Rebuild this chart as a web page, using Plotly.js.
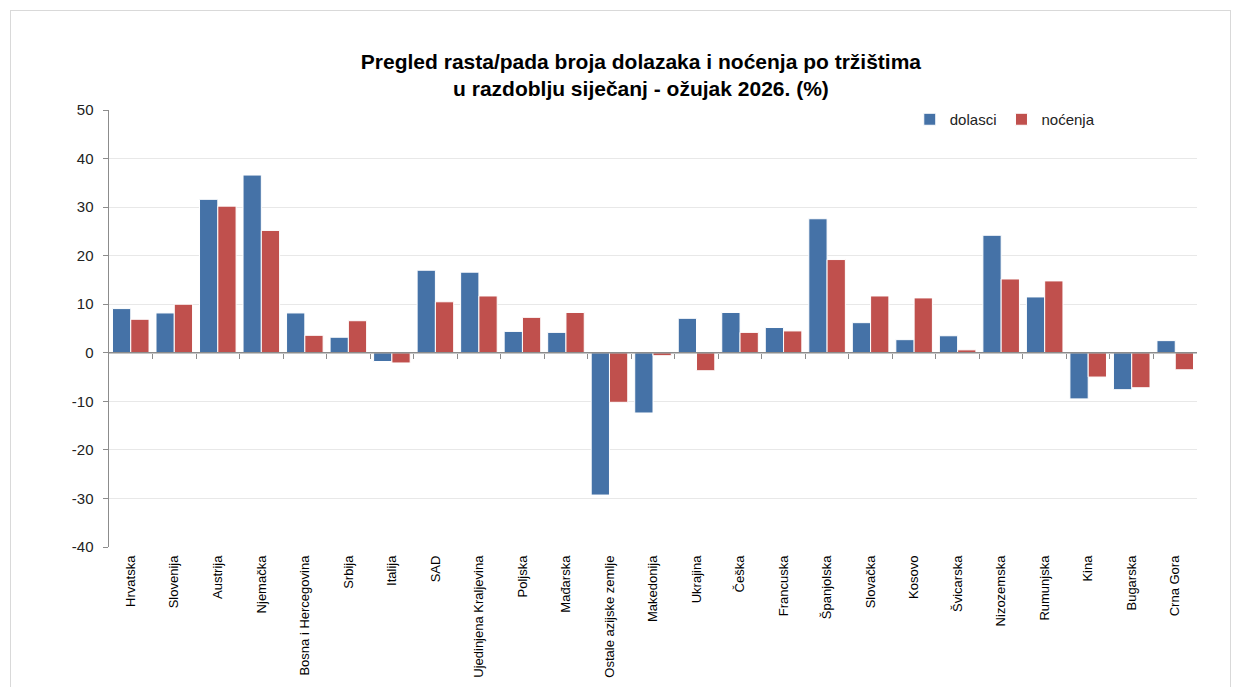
<!DOCTYPE html>
<html>
<head>
<meta charset="utf-8">
<script src="https://cdn.plot.ly/plotly-3.0.1.min.js"></script>
<style>
html,body{margin:0;padding:0;background:#fff;overflow:hidden;}
#frame{position:absolute;left:10px;top:10px;width:1221px;height:700px;border:1px solid #d9d9d9;box-sizing:border-box;pointer-events:none;z-index:2;}
#chart{position:absolute;left:0;top:0;width:1234px;height:687px;}
</style>
</head>
<body>
<div id="chart"></div>
<div id="frame"></div>
<script>
const categories = ["Hrvatska","Slovenija","Austrija","Njemačka","Bosna i Hercegovina","Srbija","Italija","SAD","Ujedinjena Kraljevina","Poljska","Mađarska","Ostale azijske zemlje","Makedonija","Ukrajina","Češka","Francuska","Španjolska","Slovačka","Kosovo","Švicarska","Nizozemska","Rumunjska","Kina","Bugarska","Crna Gora"];
const dolasci = [9.1, 8.2, 31.6, 36.6, 8.2, 3.2, -1.8, 17.0, 16.6, 4.4, 4.2, -29.3, -12.4, 7.1, 8.3, 5.2, 27.6, 6.2, 2.7, 3.5, 24.2, 11.5, -9.5, -7.6, 2.5];
const nocenja = [6.9, 10.0, 30.2, 25.2, 3.6, 6.6, -2.1, 10.5, 11.7, 7.3, 8.3, -10.2, -0.6, -3.7, 4.2, 4.5, 19.2, 11.7, 11.3, 0.6, 15.2, 14.8, -5.0, -7.2, -3.5];
const yTicks = [-40,-30,-20,-10,0,10,20,30,40,50];
const yTickLabels = ["-40","-30","-20","-10","0","10","20","30","40","50"];
const seriesNames = ["dolasci","noćenja"];
const titleText = "Pregled rasta/pada broja dolazaka i noćenja po tržištima<br>u razdoblju siječanj - ožujak 2026. (%)";

const FONT = "Liberation Sans, Arial, sans-serif";
const yMin = -40, yMax = 50;
const boundaries = categories.slice(0, -1).map((c, i) => i + 0.5);

const traces = [
  {type:'bar', name:seriesNames[0], x:categories, y:dolasci,
   marker:{color:'#4572A7', line:{color:'#ffffff', width:1}}, hoverinfo:'x+y'},
  {type:'bar', name:seriesNames[1], x:categories, y:nocenja,
   marker:{color:'#C0504D', line:{color:'#ffffff', width:1}}, hoverinfo:'x+y'},
  {type:'scatter', x:[-0.5, categories.length - 0.5], y:[0, 0], xaxis:'x2', yaxis:'y',
   mode:'lines', line:{color:'#8c8c8c', width:1.5}, showlegend:false, hoverinfo:'skip'}
];

const layout = {
  width:1234, height:687,
  margin:{l:109, r:37, t:110, b:140, pad:0},
  paper_bgcolor:'#ffffff', plot_bgcolor:'#ffffff',
  title:{text:titleText, x:0.5194, xanchor:'center', y:0.9, yanchor:'middle',
         font:{family:FONT, size:21, color:'#000000', weight:'bold'}},
  barmode:'group', bargap:0.16, bargroupgap:0,
  showlegend:true,
  legend:{orientation:'h', x:0.736, y:1.016, xanchor:'left', yanchor:'top',
          font:{family:FONT, size:15, color:'#222'}, bgcolor:'rgba(0,0,0,0)', itemwidth:30},
  xaxis:{type:'category', tickangle:-90, tickfont:{family:FONT, size:13, color:'#000'},
         showgrid:false, zeroline:false, showline:false, ticks:'', automargin:false,
         ticklabelstandoff:5, range:[-0.5, categories.length - 0.5]},
  xaxis2:{overlaying:'x', anchor:'free', position:(0 - yMin)/(yMax - yMin),
          range:[-0.5, categories.length - 0.5], tickmode:'array', tickvals:boundaries,
          ticks:'outside', ticklen:5, tickcolor:'#8c8c8c', tickwidth:1,
          showticklabels:false, showgrid:false, zeroline:false, showline:false, automargin:false},
  yaxis:{range:[yMin, yMax], tickmode:'array', tickvals:yTicks, ticktext:yTickLabels,
         tickfont:{family:FONT, size:15, color:'#222'},
         showgrid:true, gridcolor:'#e8e8e8', gridwidth:1, zeroline:false,
         showline:true, linecolor:'#8c8c8c', linewidth:1.5, ticks:'outside', ticklen:5,
         tickcolor:'#8c8c8c', automargin:false, ticklabelstandoff:6}
};

Plotly.newPlot('chart', traces, layout, {displayModeBar:false, staticPlot:true});
</script>
</body>
</html>
